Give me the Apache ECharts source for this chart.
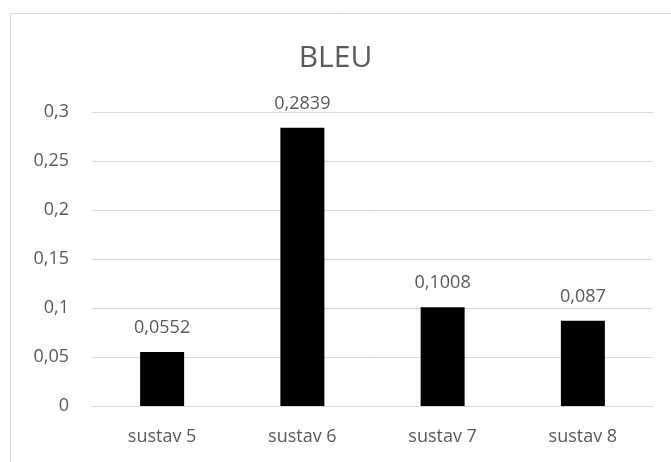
<!DOCTYPE html>
<html>
<head>
<meta charset="utf-8">
<script src="https://cdn.jsdelivr.net/npm/echarts@6/dist/echarts.min.js"></script>
<style>
  html, body { margin: 0; padding: 0; background: #fff; }
  #chart { width: 671px; height: 462px; }
</style>
</head>
<body>
<div id="chart"></div>
<script>
const categories = ["sustav 5", "sustav 6", "sustav 7", "sustav 8"];
const bleu = [0.0552, 0.2839, 0.1008, 0.087];

const comma = (v) => String(v).replace(".", ",");
const font = "Open Sans";

const chart = echarts.init(document.getElementById("chart"));
chart.setOption({
  animation: false,
  textStyle: { fontFamily: font },
  graphic: [
    {
      type: "rect",
      shape: { x: 10.5, y: 13.5, width: 700, height: 500 },
      style: { fill: "none", stroke: "#d9d9d9", lineWidth: 1 },
    },
  ],
  title: {
    text: "BLEU",
    left: "center",
    top: 38,
    textStyle: { fontFamily: font, fontSize: 30, fontWeight: "normal", color: "#595959" },
  },
  grid: { left: 92, right: 18, top: 112, bottom: 56 },
  xAxis: {
    type: "category",
    data: categories,
    axisLine: { lineStyle: { color: "#d9d9d9" } },
    axisTick: { show: false },
    axisLabel: { color: "#595959", fontSize: 18, margin: 22, fontFamily: font },
  },
  yAxis: {
    type: "value",
    min: 0,
    max: 0.3,
    interval: 0.05,
    axisLine: { show: false },
    axisTick: { show: false },
    splitLine: { lineStyle: { color: "#d9d9d9" } },
    axisLabel: {
      color: "#595959",
      fontSize: 18,
      margin: 23,
      fontFamily: font,
      formatter: (v) => comma(Math.round(v * 100) / 100),
    },
  },
  series: [
    {
      type: "bar",
      data: bleu,
      barWidth: 44,
      itemStyle: { color: "#000" },
      label: {
        show: true,
        position: "top",
        distance: 15,
        color: "#595959",
        fontSize: 18,
        fontFamily: font,
        formatter: (p) => comma(p.value),
      },
    },
  ],
});
</script>
</body>
</html>
